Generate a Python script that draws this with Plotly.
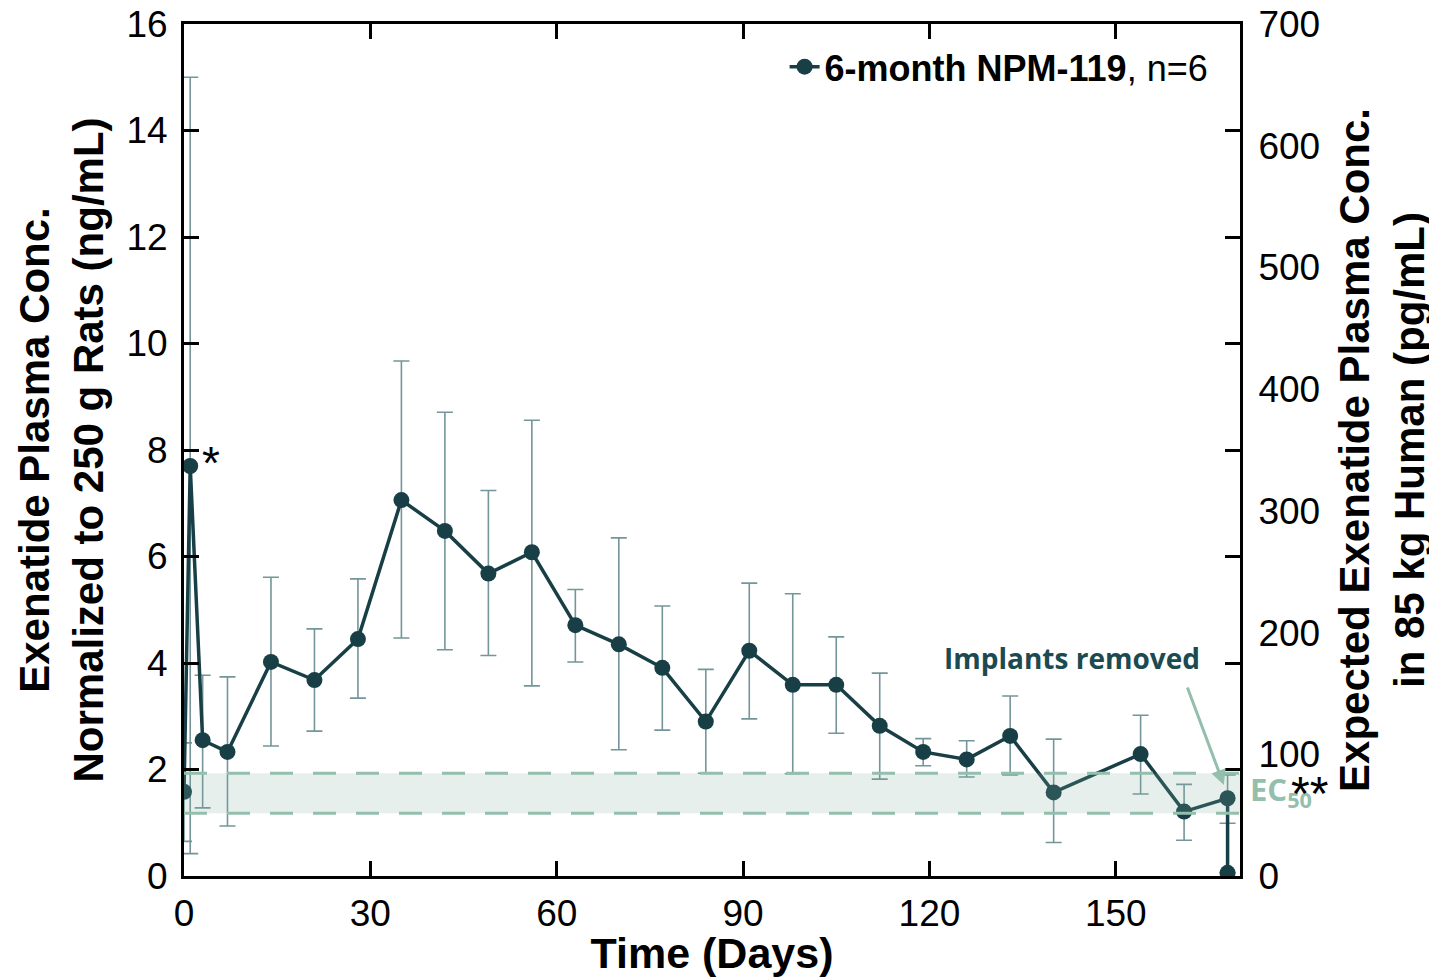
import plotly.graph_objects as go

# ---- data ----
days = [0, 1, 3, 7, 14, 21, 28, 35, 42, 49, 56, 63, 70, 77, 84, 91, 98, 105, 112, 119, 126, 133, 140, 154, 161, 168, 168]
mean = [1.58, 7.70, 2.55, 2.33, 4.02, 3.68, 4.45, 7.06, 6.48, 5.68, 6.08, 4.71, 4.35, 3.91, 2.90, 4.23, 3.59, 3.59, 2.82, 2.33, 2.19, 2.63, 1.57, 2.29, 1.21, 1.46, 0.06]
upper = [2.50, 15.00, 3.77, 3.74, 5.61, 4.64, 5.58, 9.67, 8.71, 7.24, 8.56, 5.38, 6.35, 5.07, 3.88, 5.50, 5.30, 4.49, 3.81, 2.58, 2.54, 3.38, 2.57, 3.02, 1.72, 1.90, 0.06]
lower = [0.65, 0.42, 1.28, 0.94, 2.44, 2.72, 3.34, 4.47, 4.25, 4.14, 3.57, 4.02, 2.37, 2.74, 1.93, 2.95, 1.92, 2.68, 1.82, 2.07, 1.86, 1.90, 0.63, 1.54, 0.67, 0.99, 0.06]

ec50_low = 1.18
ec50_high = 1.93

x_range = [0, 170]
y_left_range = [0, 16]
y_right_range = [0, 700]
x_ticks = [0, 30, 60, 90, 120, 150]
y_left_ticks = [0, 2, 4, 6, 8, 10, 12, 14, 16]
y_right_ticks = [0, 100, 200, 300, 400, 500, 600, 700]

series_name = "<b>6-month NPM-119</b>, n=6"

# ---- styles ----
DARK = "#173f45"
ERR = "#74959a"
EC_COL = "#93bfac"
FONT = "Liberation Sans, Arial, sans-serif"

err_plus = [u - m for u, m in zip(upper, mean)]
err_minus = [m - l for m, l in zip(mean, lower)]

fig = go.Figure()
fig.add_trace(go.Scatter(
    x=days, y=mean, mode="lines+markers", name=series_name,
    line=dict(color=DARK, width=3.5),
    marker=dict(color=DARK, size=16),
    error_y=dict(type="data", symmetric=False, array=err_plus, arrayminus=err_minus,
                 color=ERR, thickness=1.6, width=8),
))
# invisible trace to activate the right axis
fig.add_trace(go.Scatter(x=[days[0]], y=[y_right_range[0]], yaxis="y2", mode="markers",
                         marker=dict(opacity=0), showlegend=False, hoverinfo="skip"))

# EC50 band (drawn above data, translucent)
fig.add_shape(type="rect", xref="x", yref="y", x0=x_range[0], x1=x_range[1],
              y0=ec50_low, y1=ec50_high, fillcolor="rgba(130,175,160,0.2)",
              line=dict(width=0), layer="above")
for yv in (ec50_low, ec50_high):
    fig.add_shape(type="line", xref="x", yref="y", x0=x_range[0], x1=x_range[1],
                  y0=yv, y1=yv, line=dict(color=EC_COL, width=3, dash="23px,20px"),
                  layer="above")

axis_common = dict(showline=True, linecolor="black", linewidth=3, mirror="ticks",
                   ticks="inside", ticklen=15, tickwidth=2.5, tickcolor="black",
                   showgrid=False, zeroline=False, automargin=False,
                   ticklabeloverflow="allow",
                   tickfont=dict(family=FONT, size=37, color="black"))

# the page body adds an 8px offset, so the figure is sized/margined to compensate
fig.update_layout(
    width=1429, height=969,
    margin=dict(l=176, r=197, t=16, b=101),
    plot_bgcolor="white", paper_bgcolor="white",
    font=dict(family=FONT, color="black"),
    xaxis=dict(range=x_range, tickvals=x_ticks, ticklabelstandoff=3,
               title=dict(text="<b>Time (Days)</b>", font=dict(family=FONT, size=43), standoff=0),
               **axis_common),
    yaxis=dict(range=y_left_range, tickvals=y_left_ticks, ticklabelstandoff=6,
               title=dict(text="<b>Exenatide Plasma Conc.<br>Normalized to 250 g Rats (ng/mL)</b>",
                          font=dict(family=FONT, size=42), standoff=10),
               **axis_common),
    yaxis2=dict(range=y_right_range, tickvals=y_right_ticks, overlaying="y", side="right",
                showline=False, showgrid=False, zeroline=False, automargin=False,
                ticklabeloverflow="allow",
                ticks="outside", ticklen=10, tickcolor="rgba(0,0,0,0)",
                tickfont=dict(family=FONT, size=37, color="black"),
                title=dict(text="<b>Expected Exenatide Plasma Conc.<br>in 85 kg Human (pg/mL)</b>",
                           font=dict(family=FONT, size=42), standoff=20)),
    legend=dict(x=0.975, y=0.985, xanchor="right", yanchor="top",
                bgcolor="rgba(0,0,0,0)", font=dict(family=FONT, size=36, color="black")),
    showlegend=True,
)

# annotations
fig.add_annotation(x=4.3, y=7.75, xref="x", yref="y", text="*", showarrow=False,
                   font=dict(family=FONT, size=46, color="black"))
fig.add_annotation(x=142.9, y=4.09, xref="x", yref="y", text="<b>Implants removed</b>",
                   showarrow=False, font=dict(family="Open Sans", size=28, color="#1b4a50"))
fig.add_annotation(x=167.4, y=1.71, xref="x", yref="y", text="", showarrow=True,
                   ax=-37, ay=-99, arrowcolor=EC_COL, arrowwidth=3, arrowhead=2, arrowsize=1)
fig.add_annotation(x=1.008, y=1.12 / 16, xref="paper", yref="paper", xanchor="left",
                   text="<b>EC<sub>50</sub></b>", showarrow=False,
                   font=dict(family="Open Sans", size=31, color=EC_COL))
fig.add_annotation(x=1.066, y=1.02 / 16, xref="paper", yref="paper", xanchor="center",
                   text="**", showarrow=False,
                   font=dict(family=FONT, size=48, color="black"))

fig.write_html("out.html")
